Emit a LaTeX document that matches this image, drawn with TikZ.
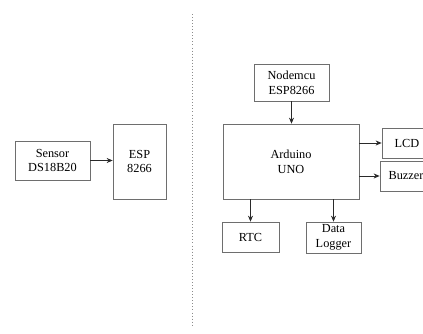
\documentclass[tikz,border=0pt]{standalone}
\usepackage{fontspec}
\setmainfont{Liberation Serif}
\usetikzlibrary{arrows.meta}
\definecolor{blkline}{HTML}{6E6E6E}
\definecolor{blkink}{HTML}{2A2A2A}
\tikzset{
  bx/.style={draw=blkline, line width=0.6pt, fill=white, align=center, font=\fontsize{10.5}{12.5}\selectfont, inner sep=1pt},
  arr/.style={-{Stealth[length=1.8mm, width=1.5mm]}, line width=0.6pt, color=blkink},
  sep/.style={draw=black!45, dotted, line width=0.6pt},
}
\begin{document}
\begin{tikzpicture}[x=0.03cm, y=-0.03cm]
    \clip (0,0) rectangle (423,333);
    \fill[white] (0,0) rectangle (423,333);
    % left part
    \node[bx, minimum width=75*0.03cm, minimum height=39*0.03cm] (sensor) at (52.5,160.5) {Sensor\\DS18B20};
    \node[bx, minimum width=53*0.03cm, minimum height=75*0.03cm] (esp) at (139.5,161.5) {ESP\\8266};
    \draw[arr] (sensor.east) -- (sensor.east -| esp.west);
    % divider
    \coordinate (septop) at (192,14);
    \coordinate (sepbot) at (192,326);
    \draw[sep] (septop) -- (sepbot);
    % right part
    \node[bx, minimum width=75*0.03cm, minimum height=37*0.03cm] (nodemcu) at (291.5,82.5) {Nodemcu\\ESP8266};
    \node[bx, minimum width=136*0.03cm, minimum height=75*0.03cm] (uno) at (291,161.5) {Arduino\\UNO};
    \node[bx, minimum width=50*0.03cm, minimum height=30*0.03cm] (lcd) at (407,143) {LCD};
    \node[bx, minimum width=52*0.03cm, minimum height=30*0.03cm] (buzzer) at (406,176) {Buzzer};
    \node[bx, minimum width=57*0.03cm, minimum height=30*0.03cm] (rtc) at (250.5,237) {RTC};
    \node[bx, minimum width=55*0.03cm, minimum height=31*0.03cm] (logger) at (333.5,237.5) {Data\\Logger};
    \draw[arr] (nodemcu.south) -- (nodemcu.south |- uno.north);
    \draw[arr] (uno.east |- lcd.west) -- (lcd.west);
    \draw[arr] (uno.east |- buzzer.west) -- (buzzer.west);
    \draw[arr] (uno.south -| rtc.north) -- (rtc.north);
    \draw[arr] (uno.south -| logger.north) -- (logger.north);
\end{tikzpicture}
\end{document}
